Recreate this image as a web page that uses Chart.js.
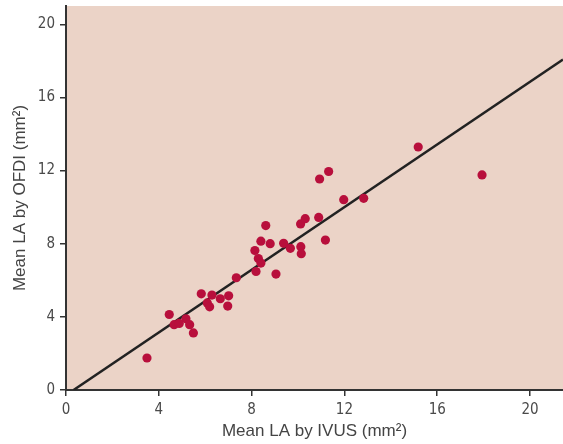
<!DOCTYPE html>
<html>
<head>
<meta charset="utf-8">
<script src="https://cdn.jsdelivr.net/npm/chart.js@4/dist/chart.umd.min.js"></script>
<style>
  html, body { margin: 0; padding: 0; background: #fff; }
  #wrap { width: 563px; height: 444px; position: relative; }
</style>
</head>
<body>
<div id="wrap"><canvas id="scatter"></canvas></div>
<script>
// mean lumen area, IVUS (x) vs OFDI (y), mm2
var ivus = [3.49, 4.45, 4.66, 4.88, 5.17, 5.33, 5.49, 5.83, 6.09, 6.19, 6.29, 6.65, 6.97,
            7.01, 7.34, 8.14, 8.19, 8.29, 8.40, 8.40, 8.61, 8.80, 9.05, 9.38, 9.67, 10.11,
            10.12, 10.14, 10.31, 10.89, 10.93, 11.18, 11.32, 11.97, 12.83, 15.18, 17.93];
var ofdi = [1.75, 4.13, 3.57, 3.64, 3.89, 3.57, 3.12, 5.26, 4.76, 4.55, 5.19, 4.99, 4.59,
            5.15, 6.14, 7.63, 6.48, 7.19, 6.94, 8.14, 8.99, 8.00, 6.34, 8.02, 7.75, 9.08,
            7.84, 7.45, 9.37, 9.44, 11.54, 8.20, 11.95, 10.41, 10.48, 13.29, 11.76];
var ticks = [0, 4, 8, 12, 16, 20];

// regression line y = slope * x + intercept
var slope = 0.857;
var intercept = -0.28;

var xMax = 21.42;
var yMax = 21;

var points = ivus.map(function (x, i) { return { x: x, y: ofdi[i] }; });
var fitStart = -intercept / slope;
var fit = [
  { x: fitStart, y: 0 },
  { x: xMax, y: slope * xMax + intercept }
];

var plotBg = {
  id: 'plotBg',
  beforeDraw: function (chart) {
    var a = chart.chartArea, ctx = chart.ctx;
    ctx.save();
    ctx.fillStyle = '#ebd3c7';
    ctx.fillRect(a.left, a.top, a.right - a.left, a.bottom - a.top);
    ctx.restore();
  }
};

function keepTicks(scale) {
  scale.ticks = ticks.map(function (v) { return { value: v }; });
}

var tickFont = { family: "'DejaVu Sans Condensed', 'Liberation Sans Narrow', sans-serif", size: 15 };
var titleFont = { family: "'Liberation Sans', Arial, sans-serif", size: 17 };

new Chart(document.getElementById('scatter'), {
  type: 'scatter',
  data: {
    datasets: [
      {
        data: points,
        backgroundColor: '#b80f3c',
        borderWidth: 0,
        pointRadius: 4.6,
        pointHoverRadius: 4.6
      },
      {
        type: 'line',
        data: fit,
        borderColor: '#222222',
        borderWidth: 2.5,
        pointRadius: 0,
        fill: false
      }
    ]
  },
  options: {
    responsive: true,
    maintainAspectRatio: false,
    animation: false,
    layout: { autoPadding: false, padding: { top: 6, right: 0, left: 0, bottom: 0 } },
    plugins: { legend: { display: false }, tooltip: { enabled: false } },
    scales: {
      x: {
        type: 'linear',
        min: 0,
        max: xMax,
        afterBuildTicks: keepTicks,
        afterFit: function (s) { s.height = 54; s.paddingLeft = 0; s.paddingRight = 0; },
        border: { color: '#333333', width: 2 },
        grid: { drawOnChartArea: false, drawTicks: true, tickLength: 6, color: '#333333', lineWidth: 1.5 },
        ticks: { color: '#4a4a4a', font: tickFont, padding: 5, maxRotation: 0 },
        title: { display: true, text: 'Mean LA by IVUS (mm²)', color: '#444444', font: titleFont, padding: { top: 0, bottom: 2 } }
      },
      y: {
        type: 'linear',
        min: 0,
        max: yMax,
        afterBuildTicks: keepTicks,
        afterFit: function (s) { s.width = 66; s.paddingTop = 0; s.paddingBottom = 0; },
        border: { color: '#333333', width: 2 },
        grid: { drawOnChartArea: false, drawTicks: true, tickLength: 6, color: '#333333', lineWidth: 1.5 },
        ticks: { color: '#4a4a4a', font: tickFont, padding: 5 },
        title: { display: true, text: 'Mean LA by OFDI (mm²)', color: '#444444', font: titleFont, padding: { top: 10, bottom: 8 } }
      }
    }
  },
  plugins: [plotBg]
});
</script>
</body>
</html>
